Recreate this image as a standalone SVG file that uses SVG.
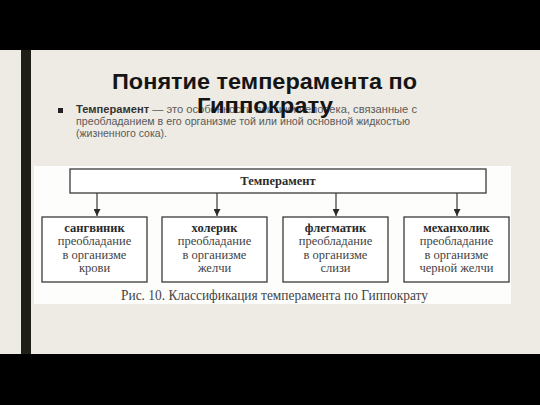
<svg xmlns="http://www.w3.org/2000/svg" width="540" height="405" viewBox="0 0 540 405">
<defs>
<marker id="arr" viewBox="0 0 10 10" refX="10" refY="5" markerWidth="7" markerHeight="7" markerUnits="userSpaceOnUse" orient="auto"><path d="M0,0 L10,5 L0,10 Z" fill="#2b2b2b"/></marker>
<style>
.box{fill:#ffffff;stroke:#3a3a3a;stroke-width:1.3}
.lbl{font-family:"Liberation Serif",serif;font-size:12.5px;fill:#444;text-anchor:middle}
.b{font-weight:bold;fill:#2a2a2a}
.con{stroke:#3a3a3a;stroke-width:1.2;fill:none;marker-end:url(#arr)}
.bul{font-family:"Liberation Sans",Arial,sans-serif;font-size:11px;fill:#5a5a5a}
</style>
</defs>
<rect x="0" y="0" width="540" height="405" fill="#000"/>
<rect x="0" y="50" width="540" height="304" fill="#EEEBE4"/>
<rect x="21" y="50" width="10" height="304" fill="#1F1F17"/>
<!-- bullet text -->
<rect x="58" y="108" width="5" height="5" fill="#222"/>
<text class="bul" x="76" y="113" textLength="341" lengthAdjust="spacingAndGlyphs"><tspan font-weight="bold" fill="#333">Темперамент</tspan> — это особенности психики человека, связанные с</text>
<text class="bul" x="76" y="125" textLength="334" lengthAdjust="spacingAndGlyphs">преобладанием в его организме той или иной основной жидкостью</text>
<text class="bul" x="76" y="137" textLength="91" lengthAdjust="spacingAndGlyphs">(жизненного сока).</text>
<!-- title -->
<g font-family="'Liberation Sans',Arial,sans-serif" font-weight="bold" font-size="22.5" fill="#151515">
<text x="112" y="89" textLength="305" lengthAdjust="spacingAndGlyphs">Понятие темперамента по</text>
<text x="197" y="113" textLength="136" lengthAdjust="spacingAndGlyphs">Гиппократу</text>
</g>
<!-- figure -->
<rect x="34" y="166" width="477" height="138" fill="#FDFDFB"/>
<g id="n0"><rect class="box" x="70" y="169" width="416" height="24"/><text class="lbl b" x="278" y="185">Темперамент</text></g>
<g id="n1"><rect class="box" x="42" y="217" width="105" height="65"/><text class="lbl" x="94.5" y="232"><tspan class="b">сангвиник</tspan><tspan x="94.5" dy="13.3">преобладание</tspan><tspan x="94.5" dy="13.3">в организме</tspan><tspan x="94.5" dy="13.3">крови</tspan></text></g>
<g id="n2"><rect class="box" x="162" y="217" width="105" height="65"/><text class="lbl" x="214.5" y="232"><tspan class="b">холерик</tspan><tspan x="214.5" dy="13.3">преобладание</tspan><tspan x="214.5" dy="13.3">в организме</tspan><tspan x="214.5" dy="13.3">желчи</tspan></text></g>
<g id="n3"><rect class="box" x="283" y="217" width="105" height="65"/><text class="lbl" x="335.5" y="232"><tspan class="b">флегматик</tspan><tspan x="335.5" dy="13.3">преобладание</tspan><tspan x="335.5" dy="13.3">в организме</tspan><tspan x="335.5" dy="13.3">слизи</tspan></text></g>
<g id="n4"><rect class="box" x="404" y="217" width="105" height="65"/><text class="lbl" x="456.5" y="232"><tspan class="b">механхолик</tspan><tspan x="456.5" dy="13.3">преобладание</tspan><tspan x="456.5" dy="13.3">в организме</tspan><tspan x="456.5" dy="13.3">черной желчи</tspan></text></g>
<g id="connectors">
<line class="con" x1="97" y1="193" x2="97" y2="216"/>
<line class="con" x1="217" y1="193" x2="217" y2="216"/>
<line class="con" x1="336" y1="193" x2="336" y2="216"/>
<line class="con" x1="457" y1="193" x2="457" y2="216"/>
</g>
<text x="121" y="300" font-family="'Liberation Serif',serif" font-size="14.5" fill="#444" textLength="307" lengthAdjust="spacingAndGlyphs">Рис. 10. Классификация темперамента по Гиппократу</text>
</svg>
